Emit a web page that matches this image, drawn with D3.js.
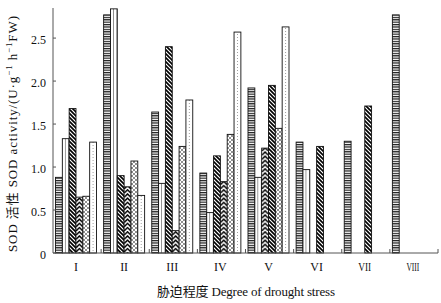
<!DOCTYPE html>
<html><head><meta charset="utf-8">
<script src="https://cdn.jsdelivr.net/npm/d3@7/dist/d3.min.js"></script>
<style>body{margin:0;background:#fff}svg{display:block}</style>
</head><body><svg id="c" width="441" height="303"></svg>
<script>
const categories = ["I","II","III","IV","V","VI","VII","VIII"];
const seriesNames = ["s1","s2","s3","s4","s5","s6"];
const s1 = [0.88, 2.77, 1.64, 0.93, 1.92, 1.29, 1.30, 2.77];
const s2 = [1.33, 2.84, 0.81, 0.47, 0.88, 0.97, 0, 0];
const s3 = [1.68, 0.90, 2.40, 1.13, 1.22, 0, 0, 0];
const s4 = [0.65, 0.77, 0.26, 0.83, 1.95, 1.24, 1.71, 0];
const s5 = [0.66, 1.07, 1.24, 1.38, 1.45, 0, 0, 0];
const s6 = [1.29, 0.67, 1.78, 2.57, 2.63, 0, 0, 0];
const yTicks = [0, 0.5, 1.0, 1.5, 2.0, 2.5];
const yTickLabels = ["0","0.5","1.0","1.5","2.0","2.5"];
const seriesValues = [s1, s2, s3, s4, s5, s6];
// pattern of 3rd/4th series appear swapped in these groups
const swapGroups = ["V","VI","VII"];

const svg = d3.select("#c");
const L = 53, R = 438, T = 8, B = 253;
const x0 = d3.scaleBand().domain(categories).range([L, R]).padding(0);
const x1 = d3.scaleBand().domain(seriesNames).range([2.5, 43.5]).padding(0);
const y = d3.scaleLinear().domain([0, 2.85]).range([B, T]);
const defs = svg.append("defs");
const serif = "'Liberation Serif','Times New Roman','Noto Sans CJK SC',serif";

const patternKinds = ["hlines","vlines","bdiag","chevron","xhatch","dots"];
function makePattern(id, kind, bx, bw) {
  const p = defs.append("pattern").attr("id", id).attr("patternUnits","userSpaceOnUse");
  if (kind === "hlines") {
    p.attr("width", 8).attr("height", 2.4);
    p.append("rect").attr("width",8).attr("height",2.4).attr("fill","#fff");
    p.append("rect").attr("y",0).attr("width",8).attr("height",1.2).attr("fill","#1a1a1a");
  } else if (kind === "vlines") {
    p.attr("x", bx).attr("width", bw/2).attr("height", 4);
    p.append("rect").attr("width",bw/2).attr("height",4).attr("fill","#fff");
    p.append("rect").attr("x",bw/2-0.5).attr("width",0.9).attr("height",4).attr("fill","#333");
  } else if (kind === "bdiag") {
    p.attr("width", 4).attr("height", 4);
    p.append("rect").attr("width",4).attr("height",4).attr("fill","#fff");
    p.append("path").attr("d","M-1,-1 L5,5 M-1,3 L1,5 M3,-1 L5,1").attr("stroke","#000").attr("stroke-width",1.6);
  } else if (kind === "chevron") {
    p.attr("x", bx).attr("width", bw).attr("height", 4.2);
    p.append("rect").attr("width",bw).attr("height",4.2).attr("fill","#fff");
    p.append("path").attr("d",`M0,4.2 L${bw/2},0.8 L${bw},4.2`).attr("fill","none").attr("stroke","#000").attr("stroke-width",1.5);
  } else if (kind === "xhatch") {
    p.attr("width", 4).attr("height", 4);
    p.append("rect").attr("width",4).attr("height",4).attr("fill","#fff");
    p.append("path").attr("d","M0,0 L4,4 M4,0 L0,4").attr("stroke","#444").attr("stroke-width",0.6);
  } else if (kind === "dots") {
    p.attr("x", bx).attr("width", bw).attr("height", 3);
    p.append("rect").attr("width",bw).attr("height",3).attr("fill","#fff");
    p.append("circle").attr("cx",bw/2).attr("cy",1.5).attr("r",0.45).attr("fill","#444");
  }
}

const bars = [];
categories.forEach((c, gi) => {
  seriesNames.forEach((s, si) => {
    const v = seriesValues[si][gi];
    if (!v) return;
    let k = si;
    if (swapGroups.includes(c) && (si === 2 || si === 3)) k = si === 2 ? 3 : 2;
    bars.push({c, s, v, kind: patternKinds[k], id: `p${gi}_${si}`});
  });
});

bars.forEach(d => {
  const bx = x0(d.c) + x1(d.s);
  makePattern(d.id, d.kind, bx, x1.bandwidth());
});

svg.append("g").selectAll("rect").data(bars).join("rect")
  .attr("x", d => x0(d.c) + x1(d.s))
  .attr("y", d => y(d.v))
  .attr("width", x1.bandwidth())
  .attr("height", d => y(0) - y(d.v))
  .attr("fill", d => `url(#${d.id})`)
  .attr("stroke", "#111").attr("stroke-width", 0.9);

// axes
const ax = svg.append("g").attr("stroke", "#555").attr("stroke-width", 1);
ax.append("line").attr("x1", L).attr("x2", L).attr("y1", T).attr("y2", B);
ax.append("line").attr("x1", L).attr("x2", R).attr("y1", B).attr("y2", B);
ax.selectAll(".yt").data(yTicks).join("line").attr("class","yt")
  .attr("x1", L).attr("x2", L+3).attr("y1", d => y(d)).attr("y2", d => y(d));
ax.selectAll(".xt").data(categories).join("line").attr("class","xt")
  .attr("x1", d => x0(d)+x0.bandwidth()).attr("x2", d => x0(d)+x0.bandwidth())
  .attr("y1", B-4).attr("y2", B);

svg.append("g").selectAll("text").data(yTicks).join("text")
  .attr("x", 46).attr("y", d => y(d) + 6)
  .attr("text-anchor","end").attr("font-family", serif).attr("font-size", 12)
  .attr("fill","#111").text((d,i) => yTickLabels[i]);

const xl = svg.append("g").selectAll("text").data(categories).join("text")
  .attr("x", d => x0(d) + 23)
  .attr("y", 271)
  .attr("text-anchor","middle").attr("font-family", serif).attr("font-size", 12)
  .attr("fill","#111").text(d => d);
xl.each(function(){
  const w = this.getComputedTextLength();
  if (w > 13) d3.select(this).attr("textLength", 13).attr("lengthAdjust","spacingAndGlyphs");
});

svg.append("text").attr("x", 246).attr("y", 296).attr("text-anchor","middle")
  .attr("font-family", serif).attr("font-size", 13).attr("fill","#111")
  .attr("textLength", 178).attr("lengthAdjust","spacing")
  .text("胁迫程度 Degree of drought stress");

const yl = svg.append("text").attr("transform","translate(17,134) rotate(-90)")
  .attr("text-anchor","middle").attr("font-family", serif).attr("font-size", 13).attr("fill","#111")
  .attr("textLength", 236).attr("lengthAdjust","spacing");
yl.append("tspan").text("SOD 活性  SOD activity/(U·g");
yl.append("tspan").attr("baseline-shift","super").attr("font-size",9).text("−1");
yl.append("tspan").text(" h");
yl.append("tspan").attr("baseline-shift","super").attr("font-size",9).text("−1");
yl.append("tspan").text("FW)");
</script></body></html>
